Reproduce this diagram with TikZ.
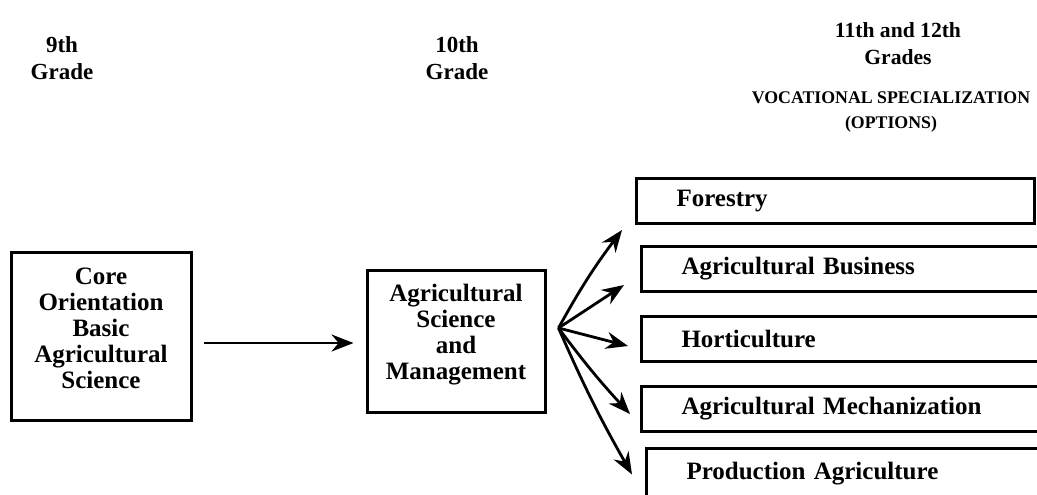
\documentclass[tikz,border=0pt]{standalone}
\usepackage{fontspec}
\setmainfont{Liberation Serif}
\usetikzlibrary{arrows.meta}
\begin{document}
\begin{tikzpicture}[x=.5pt,y=-.5pt,>={Stealth[length=11pt,width=8.5pt]},line width=1.4pt,
  font=\bfseries\fontsize{12.5}{13}\selectfont,
  gradebox/.style={draw,line width=1.5pt,align=center,inner sep=0pt},
  optbox/.style={draw,line width=1.5pt,anchor=north west,inner ysep=0pt,inner xsep=20pt,
    text width=159pt,minimum height=22.5pt,align=left},
  head/.style={align=center,font=\bfseries\fontsize{11.5}{13.5}\selectfont}]
  \path[use as bounding box,clip] (0,0) rectangle (1037,494);
  % grade headings
  \node[head] (g9) at (62,58) {9th\\Grade};
  \node[head] (g10) at (457,58) {10th\\Grade};
  \node[head,font=\bfseries\fontsize{10.8}{13.5}\selectfont] (g11) at (898,44) {11th and 12th\\Grades};
  \node[head,font=\bfseries\fontsize{8.9}{12.5}\selectfont] (voc) at (891,112) {VOCATIONAL SPECIALIZATION\\(OPTIONS)};
  % the two courses
  \node[gradebox,minimum width=90pt,minimum height=84pt,text depth=7.5pt] (core) at (101,336)
    {Core\\Orientation\\Basic\\Agricultural\\Science};
  \node[gradebox,minimum width=89pt,minimum height=71pt,text depth=9.5pt] (mgmt) at (456,341)
    {Agricultural\\Science\\and\\Management};
  \draw[->] ([shift={(11,7)}]core.east) -- ([shift={(-12,2)}]mgmt.west);
  % options
  \node[optbox] (forest) at (635,177) {Forestry};
  \node[optbox] (bus) at (640,245) {Agricultural Business};
  \node[optbox,text width=162pt] (hort) at (640,315) {Horticulture};
  \node[optbox,text width=162pt] (mech) at (640,385) {Agricultural Mechanization};
  \node[optbox,text width=162pt,minimum height=25pt] (prod) at (645,447) {Production Agriculture};
  \coordinate (fan) at ([shift={(12,-13)}]mgmt.east);
  \draw[->] (fan) to[bend left=4] ([shift={(-13,5)}]forest.south west);
  \draw[->] (fan) -- ([shift={(-16,16)}]bus.west);
  \draw[->] (fan) -- ([shift={(-12,7)}]hort.west);
  \draw[->] (fan) to[bend right=3] ([shift={(-10,5)}]mech.west);
  \draw[->] (fan) to[bend right=3] ([shift={(-13,1)}]prod.west);
\end{tikzpicture}
\end{document}
